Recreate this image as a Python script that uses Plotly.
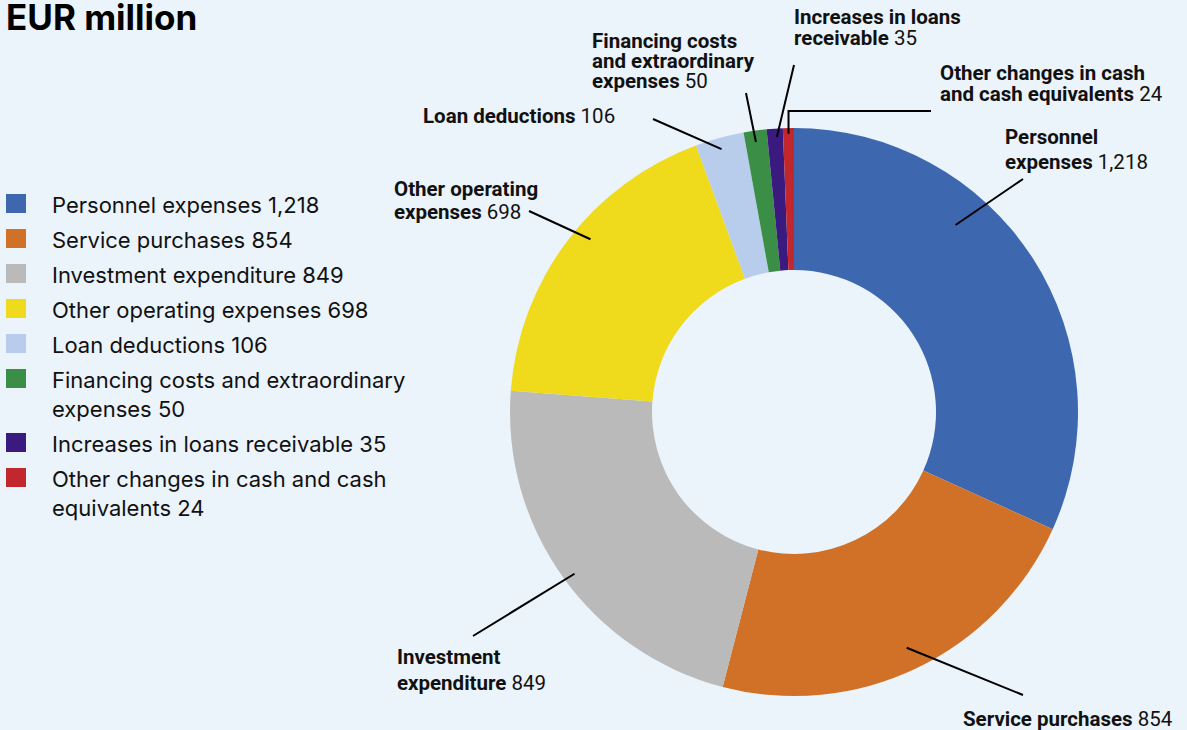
import math
import plotly.graph_objects as go

# ---------------- data ----------------
categories = [
    "Personnel expenses",
    "Service purchases",
    "Investment expenditure",
    "Other operating expenses",
    "Loan deductions",
    "Financing costs and extraordinary expenses",
    "Increases in loans receivable",
    "Other changes in cash and cash equivalents",
]
values = [1218, 854, 849, 698, 106, 50, 35, 24]
colors = ["#3D68B0", "#D07127", "#BABABA", "#EFDA1B", "#B8CDEB", "#3B8E45", "#3A1A7E", "#C1272D"]
legend_lines = [
    ["Personnel expenses"],
    ["Service purchases"],
    ["Investment expenditure"],
    ["Other operating expenses"],
    ["Loan deductions"],
    ["Financing costs and extraordinary", "expenses"],
    ["Increases in loans receivable"],
    ["Other changes in cash and cash", "equivalents"],
]
label_lines = [
    ["Personnel", "expenses"],
    ["Service purchases"],
    ["Investment", "expenditure"],
    ["Other operating", "expenses"],
    ["Loan deductions"],
    ["Financing costs", "and extraordinary", "expenses"],
    ["Increases in loans", "receivable"],
    ["Other changes in cash", "and cash equivalents"],
]
title = "EUR million"

# ---------------- layout / style ----------------
W, H = 1187, 730
BG = "#EBF3FB"
CX, CY, R = 794, 412, 284
HOLE = 0.5
LABEL_FONT = dict(family="Roboto, sans-serif", size=20.5, color="#111111")
LEGEND_FONT = dict(family="Inter, sans-serif", size=22, color="#111111")

# where each leader line touches its slice: (fraction along slice, fraction of radius)
tip_params = [(0.357, 0.87), (0.50, 0.92), (0.49, 0.96), (0.55, 0.94),
              (0.48, 0.96), (0.47, 0.96), (0.60, 0.97), (0.50, 0.98)]
line_ends = [(1023, 179), (1023, 695), (473, 636), (529, 211),
             (653, 119), (746, 93), (794, 65), (931, 111)]
label_pos = [(1003, 137), (961, 719), (395, 657), (392, 189),
             (421, 116), (590, 41), (792, 17), (938, 73)]
label_spacing = [25, 0, 26, 23, 0, 20, 21, 21]


def px(x):
    return x / W


def py(y):
    return 1 - y / H


fig = go.Figure(
    go.Pie(
        labels=categories,
        values=values,
        sort=False,
        direction="clockwise",
        rotation=0,
        hole=HOLE,
        marker=dict(colors=colors, line=dict(width=0)),
        textinfo="none",
        hoverinfo="label+value",
        showlegend=False,
        domain=dict(x=[px(CX - R), px(CX + R)], y=[py(CY + R), py(CY - R)]),
    )
)

annotations = []
shapes = []

# title
annotations.append(dict(text="<b>" + title + "</b>", x=px(4), y=py(17), xref="paper", yref="paper",
                        xanchor="left", yanchor="middle", showarrow=False,
                        font=dict(family="Inter, sans-serif", size=35, color="#000000")))

# leader lines + slice labels
total = sum(values)
cum = 0
for i, v in enumerate(values):
    frac, rf = tip_params[i]
    ang = math.radians(360 * (cum + frac * v) / total)
    cum += v
    tx = CX + rf * R * math.sin(ang)
    ty = CY - rf * R * math.cos(ang)
    ex, ey = line_ends[i]
    if i == len(values) - 1:
        path = f"M {px(tx)},{py(ty)} L {px(tx)},{py(ey)} L {px(ex)},{py(ey)}"
        shapes.append(dict(type="path", path=path, xref="paper", yref="paper",
                           line=dict(color="#000000", width=2)))
    else:
        shapes.append(dict(type="line", x0=px(tx), y0=py(ty), x1=px(ex), y1=py(ey),
                           xref="paper", yref="paper", line=dict(color="#000000", width=2)))
    lx, ly = label_pos[i]
    lines = label_lines[i]
    for j, ln in enumerate(lines):
        txt = "<b>" + ln + "</b>"
        if j == len(lines) - 1:
            txt += " " + f"{v:,}"
        annotations.append(dict(text=txt, x=px(lx), y=py(ly + j * label_spacing[i]),
                                xref="paper", yref="paper", xanchor="left", yanchor="middle",
                                showarrow=False, font=LABEL_FONT))

# legend (manual)
row_y = 205
for i, v in enumerate(values):
    shapes.append(dict(type="rect", x0=px(6), x1=px(26), y0=py(row_y - 11), y1=py(row_y + 8),
                       xref="paper", yref="paper", fillcolor=colors[i], line=dict(width=0)))
    lines = legend_lines[i]
    for j, ln in enumerate(lines):
        txt = ln + (" " + f"{v:,}" if j == len(lines) - 1 else "")
        annotations.append(dict(text=txt, x=px(50), y=py(row_y + j * 29), xref="paper", yref="paper",
                                xanchor="left", yanchor="middle", showarrow=False, font=LEGEND_FONT))
    row_y += 35 + 29 * (len(lines) - 1)

fig.update_layout(
    width=W,
    height=H,
    margin=dict(l=0, r=0, t=0, b=0),
    paper_bgcolor=BG,
    plot_bgcolor=BG,
    showlegend=False,
    annotations=annotations,
    shapes=shapes,
)

fig.write_html("out.html")
